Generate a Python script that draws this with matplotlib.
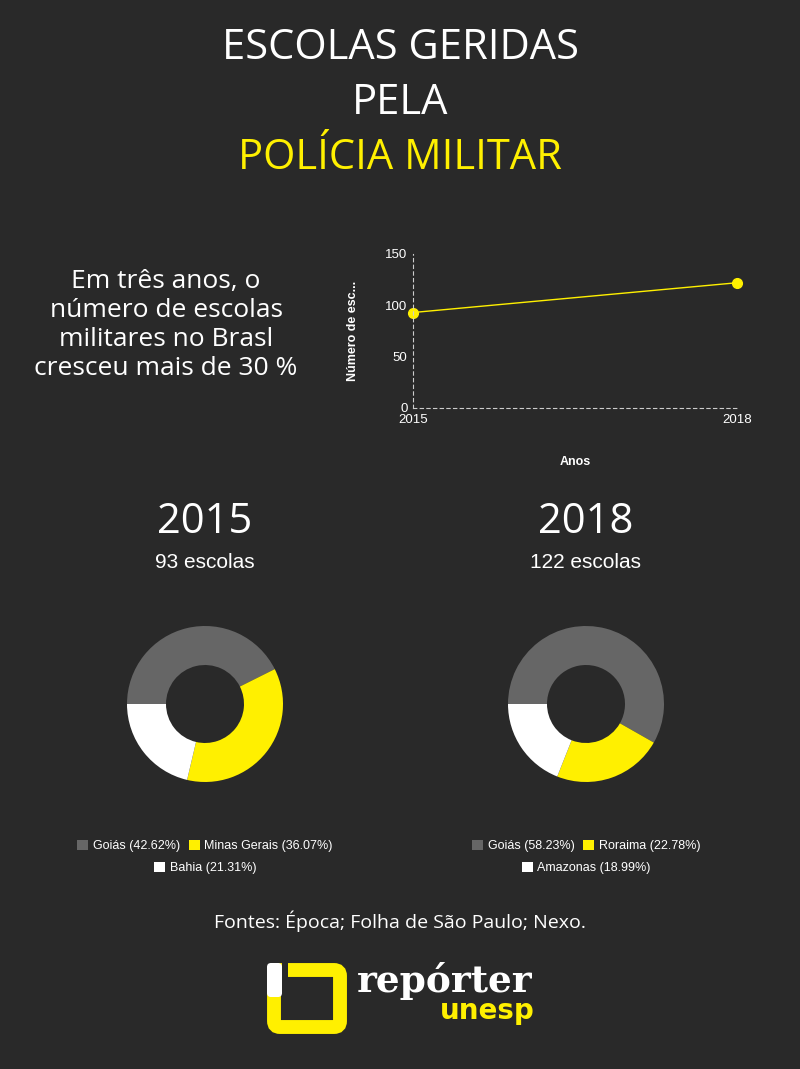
import numpy as np
import matplotlib.pyplot as plt
from matplotlib.patches import Patch, FancyBboxPatch, Rectangle

# --- dados ---
anos = [2015, 2018]
escolas = [93, 122]
y_ticks = [0, 50, 100, 150]

estados_2015 = ["Goiás", "Minas Gerais", "Bahia"]
pct_2015 = [42.62, 36.07, 21.31]
estados_2018 = ["Goiás", "Roraima", "Amazonas"]
pct_2018 = [58.23, 22.78, 18.99]

BG = "#292929"
AMARELO = "#fff000"
CINZA = "#666666"
BRANCO = "#ffffff"
CORES = [CINZA, AMARELO, BRANCO]

W, H = 800, 1069
fig = plt.figure(figsize=(W / 100, H / 100), dpi=100, facecolor=BG)


def fx(x):
    return x / W


def fy(y):
    return 1 - y / H


def box(x0, y0, x1, y1):
    # caixa em pixels (topo-esquerda) -> fracao da figura
    return [fx(x0), fy(y1), fx(x1 - x0), (y1 - y0) / H]


TITULO = "Open Sans"
SANS = "Liberation Sans"

# --- titulo ---
fig.text(0.5, fy(48), "ESCOLAS GERIDAS", color=BRANCO, fontsize=30,
         family=TITULO, ha="center", va="center")
fig.text(0.5, fy(103), "PELA", color=BRANCO, fontsize=30,
         family=TITULO, ha="center", va="center")
fig.text(0.5, fy(158), "POLÍCIA MILITAR", color=AMARELO, fontsize=30,
         family=TITULO, ha="center", va="center")

fig.text(fx(166), fy(325), "Em três anos, o\nnúmero de escolas\nmilitares no Brasl\ncresceu mais de 30 %",
         color=BRANCO, fontsize=19, family=TITULO, ha="center", va="center",
         linespacing=1.2)

# --- grafico de linha ---
ax = fig.add_axes(box(413, 254, 737, 408))
ax.set_facecolor(BG)
ax.plot(anos, escolas, color=AMARELO, lw=1, marker="o", ms=7, clip_on=False)
ax.set_xlim(anos[0], anos[-1])
ax.set_ylim(0, 150)
ax.set_xticks(anos)
ax.set_yticks(y_ticks)
ax.tick_params(colors=BRANCO, length=0, labelsize=9.5, pad=4)
for lab in ax.get_xticklabels() + ax.get_yticklabels():
    lab.set_family(SANS)
for s in ["top", "right"]:
    ax.spines[s].set_visible(False)
for s in ["left", "bottom"]:
    ax.spines[s].set_color("#cccccc")
    ax.spines[s].set_linestyle((0, (3, 3)))
    ax.spines[s].set_linewidth(0.8)
ax.set_xlabel("Anos", color=BRANCO, fontsize=9, fontweight="bold",
              family=SANS, labelpad=22)
ax.set_ylabel("Número de esc...", color=BRANCO, fontsize=9,
              fontweight="bold", family=SANS, labelpad=19)

# --- roscas ---
blocos = [(205, "2015", escolas[0], estados_2015, pct_2015),
          (586, "2018", escolas[1], estados_2018, pct_2018)]
for cx, ano, n, estados, pct in blocos:
    fig.text(fx(cx), fy(522), ano, color=BRANCO, fontsize=30,
             family=TITULO, ha="center", va="center")
    fig.text(fx(cx), fy(563), f"{n} escolas", color=BRANCO, fontsize=15,
             family=SANS, ha="center", va="center")

    ax_p = fig.add_axes(box(cx - 78, 626, cx + 78, 782))
    ax_p.pie(pct, colors=CORES, startangle=180, counterclock=False,
             radius=1, wedgeprops=dict(width=0.5, edgecolor="none"))
    ax_p.set_xlim(-1, 1)
    ax_p.set_ylim(-1, 1)
    ax_p.set_aspect("equal")
    ax_p.axis("off")

    hs = [Patch(facecolor=c, edgecolor="none") for c in CORES]
    labs = [f"{e} ({p:.2f}%)" for e, p in zip(estados, pct)]
    for hh, ll, yy in [(hs[:2], labs[:2], 846), (hs[2:], labs[2:], 868)]:
        fig.legend(hh, ll, loc="center", bbox_to_anchor=(fx(cx), fy(yy)),
                   ncol=len(hh), frameon=False,
                   labelcolor=BRANCO, handlelength=0.9, handleheight=0.9,
                   handletextpad=0.35, columnspacing=0.7,
                   prop={"family": SANS, "size": 9})

fig.text(0.5, fy(921), "Fontes: Época; Folha de São Paulo; Nexo.",
         color=BRANCO, fontsize=14, family=TITULO, ha="center", va="center")

# --- logo ---
lg = fig.add_axes([0, 0, 1, 1])
lg.set_xlim(0, W)
lg.set_ylim(H, 0)
lg.axis("off")
lg.patch.set_alpha(0)
lg.add_patch(FancyBboxPatch((274, 970), 66, 57, boxstyle="round,pad=0,rounding_size=6",
                            facecolor="none", edgecolor=AMARELO, linewidth=10))
lg.add_patch(FancyBboxPatch((267, 963), 15, 34, boxstyle="round,pad=0,rounding_size=4",
                            facecolor=BRANCO, edgecolor="none"))
lg.add_patch(Rectangle((282, 962), 6, 16, facecolor=BG, edgecolor="none"))
lg.text(357, 992, "repórter", color=BRANCO, fontsize=27, family="DejaVu Serif",
        fontweight="bold", ha="left", va="baseline")
lg.text(440, 1019, "unesp", color=AMARELO, fontsize=20, family="DejaVu Sans",
        fontweight="bold", ha="left", va="baseline")

fig.savefig("out.png", facecolor=BG, dpi=100)
